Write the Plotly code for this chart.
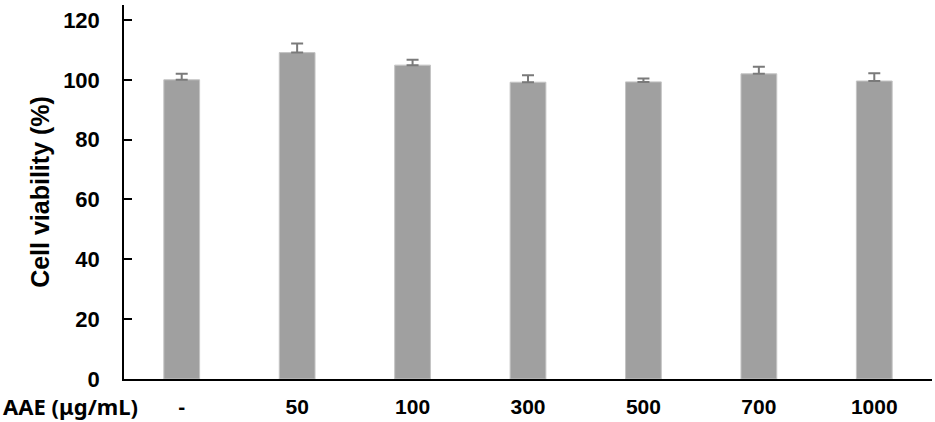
import plotly.graph_objects as go

categories = ["-", "50", "100", "300", "500", "700", "1000"]
viability = [100.0, 109.1, 104.9, 99.2, 99.3, 102.0, 99.6]
errors = [2.0, 3.0, 1.8, 2.3, 1.1, 2.4, 2.6]
y_ticks = [0, 20, 40, 60, 80, 100, 120]

fig = go.Figure()
fig.add_trace(go.Bar(
    x=categories, y=viability,
    marker=dict(color="#a0a0a0", line=dict(color="#c4c4c4", width=1)),
    error_y=dict(type="data", array=errors, arrayminus=[0] * len(errors),
                 symmetric=False, visible=True,
                 color="#7a7a7a", thickness=2, width=6),
    width=0.31,
))

fig.update_layout(
    width=935, height=422,
    margin=dict(l=124, r=3, t=5, b=43, autoexpand=False),
    plot_bgcolor="white", paper_bgcolor="white",
    showlegend=False,
    font=dict(family="Liberation Sans, Arial", color="black"),
)
fig.update_xaxes(
    type="category", automargin=False,
    showline=True, linecolor="black", linewidth=1.5,
    ticks="", showgrid=False,
    ticklabelstandoff=8,
    tickfont=dict(family="Liberation Sans", size=21, color="black", weight="bold"),
)
fig.update_yaxes(
    range=[0, 125], tickvals=y_ticks, automargin=False,
    showline=True, linecolor="black", linewidth=1.5,
    ticks="inside", ticklen=8, tickcolor="black", tickwidth=1.5,
    showgrid=False, zeroline=False,
    ticklabelstandoff=18,
    tickfont=dict(family="Liberation Sans", size=22, color="black", weight="bold"),
    title=dict(text="Cell viability (%)", standoff=6,
               font=dict(family="Liberation Sans", size=25, color="black", weight="bold")),
)
fig.add_annotation(
    text="AAE (μg/mL)", xref="paper", yref="paper",
    x=-122 / 808, y=-27 / 374, xanchor="left", yanchor="middle",
    showarrow=False, borderpad=0,
    font=dict(family="Noto Sans", size=22, color="black", weight="bold"),
)
fig.write_html(
    "out.html",
    config={"displayModeBar": False},
    post_script="document.body.style.margin='0';document.body.style.overflow='hidden';",
)
